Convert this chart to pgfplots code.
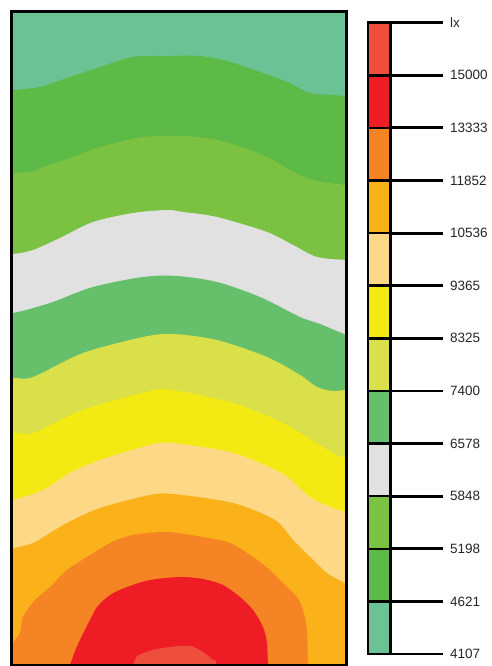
\documentclass[border=0pt]{standalone}
\usepackage{pgfplots}
\pgfplotsset{compat=1.18}
\usepgfplotslibrary{fillbetween}
\usepackage{fontspec}
\setmainfont{Liberation Sans}
\definecolor{c0}{HTML}{6AC295}
\definecolor{c1}{HTML}{5EBA46}
\definecolor{c2}{HTML}{7BC142}
\definecolor{c3}{HTML}{E1E1E1}
\definecolor{c4}{HTML}{65BF6B}
\definecolor{c5}{HTML}{DAE04A}
\definecolor{c6}{HTML}{F2EA12}
\definecolor{c7}{HTML}{FDD987}
\definecolor{c8}{HTML}{FBB11A}
\definecolor{c9}{HTML}{F58524}
\definecolor{c10}{HTML}{EE1D25}
\definecolor{c11}{HTML}{EE4E3C}
\begin{document}
\begin{tikzpicture}
% ---------- illuminance map (contour boundaries in px, y downward) ----------
\begin{axis}[
  at={(11.3pt,1pt)}, anchor=south west, scale only axis,
  width=335.4pt, height=653.7pt,
  xmin=11.3, xmax=346.7, ymin=11.3, ymax=665, y dir=reverse,
  xtick=\empty, ytick=\empty,
  axis line style={line width=2.5pt, black},
  axis on top,
]
\addplot[name path=b0, draw=none] coordinates {(-20,0) (380,0)};
% 4621 lx
\addplot[name path=b1, draw=none, smooth] coordinates {(-20,92) (13,90) (40,87) (67,78) (100,67) (133,57) (167,56) (200,56) (227,61) (260,72) (287,82) (310,93) (333,95) (347,96) (380,97)};
% 5198 lx
\addplot[name path=b2, draw=none, smooth] coordinates {(-20,174) (13,173) (33,171) (43,167) (70,158) (100,147) (143,137) (183,136) (217,140) (250,150) (273,160) (290,170) (313,180) (347,185) (380,186)};
% 5848 lx
\addplot[name path=b3, draw=none, smooth] coordinates {(-20,255) (13,254) (33,250) (60,238) (93,222) (133,213) (167,210) (183,212) (217,217) (267,232) (293,245) (317,257) (347,260) (380,261)};
% 6578 lx
\addplot[name path=b4, draw=none, smooth] coordinates {(-20,316) (13,313) (50,303) (93,287) (143,277) (177,276) (217,282) (260,297) (300,317) (320,324) (347,335) (380,345)};
% 7400 lx
\addplot[name path=b5, draw=none, smooth] coordinates {(-20,380) (13,378) (33,377) (83,353) (143,337) (173,334) (217,340) (267,357) (300,375) (317,387) (333,391) (347,390) (380,390)};
% 8325 lx
\addplot[name path=b6, draw=none, smooth] coordinates {(-20,431) (13,432) (33,433) (83,410) (150,391) (173,390) (233,403) (283,423) (333,453) (347,458) (380,466)};
% 9365 lx
\addplot[name path=b7, draw=none, smooth] coordinates {(-20,505) (13,500) (43,490) (70,473) (100,460) (150,445) (173,443) (233,453) (283,474) (310,497) (333,508) (347,512) (380,518)};
% 10536 lx
\addplot[name path=b8, draw=none, smooth] coordinates {(-20,550) (13,548) (33,543) (50,533) (67,523) (100,508) (150,495) (173,494) (233,503) (275,520) (293,540) (310,557) (327,573) (343,582) (347,583) (380,585)};
% 11852 lx
\addplot[name path=b9, draw=none, smooth] coordinates {(-20,700) (13,643) (20,633) (22,620) (27,610) (37,598) (50,587) (67,570) (87,557) (110,543) (133,535) (167,532) (203,537) (230,543) (253,557) (270,570) (283,583) (297,597) (303,610) (307,630) (308,665) (311,700) (330,760) (380,790)};
% 13333 lx
\addplot[name path=b10, draw=none, smooth] coordinates {(-20,900) (40,760) (70,665) (80,640) (90,620) (97,607) (110,595) (127,587) (150,580) (180,577) (203,579) (223,585) (240,597) (253,610) (263,627) (267,643) (268,665) (272,720) (300,800) (380,850)};
% 15000 lx
\addplot[name path=b11, draw=none, smooth] coordinates {(-20,950) (100,760) (133,665) (140,655) (153,650) (170,647) (190,646) (203,652) (213,660) (217,665) (230,720) (380,900)};
\addplot[name path=b12, draw=none] coordinates {(-20,1000) (380,1000)};
\addplot[fill=c0, draw=none] fill between[of=b0 and b12];
\addplot[fill=c1, draw=none] fill between[of=b1 and b12];
\addplot[fill=c2, draw=none] fill between[of=b2 and b12];
\addplot[fill=c3, draw=none] fill between[of=b3 and b12];
\addplot[fill=c4, draw=none] fill between[of=b4 and b12];
\addplot[fill=c5, draw=none] fill between[of=b5 and b12];
\addplot[fill=c6, draw=none] fill between[of=b6 and b12];
\addplot[fill=c7, draw=none] fill between[of=b7 and b12];
\addplot[fill=c8, draw=none] fill between[of=b8 and b12];
\addplot[fill=c9, draw=none] fill between[of=b9 and b12];
\addplot[fill=c10, draw=none] fill between[of=b10 and b12];
\addplot[fill=c11, draw=none] fill between[of=b11 and b12];
\end{axis}
% ---------- colour scale ----------
\begin{axis}[
  at={(368pt,12pt)}, anchor=south west, scale only axis,
  width=22.5pt, height=631.3pt,
  xmin=0, xmax=1, ymin=0, ymax=12,
  xtick=\empty,
  ytick={0,1,2,3,4,5,6,7,8,9,10,11,12},
  yticklabels={4107,4621,5198,5848,6578,7400,8325,9365,10536,11852,13333,15000,lx},
  ytick pos=right, yticklabel pos=right, tick align=outside,
  major tick length=52pt,
  tick style={line width=2.9pt, black},
  yticklabel style={font=\fontsize{13.5}{16}\selectfont, text=black!85, anchor=west, xshift=4pt},
  axis line style={line width=2.5pt, black},
  axis on top, clip=false,
]
\addplot[fill=c0, draw=black, line width=2.5pt] coordinates {(0,0) (1,0) (1,1) (0,1) (0,0)};
\addplot[fill=c1, draw=black, line width=2.5pt] coordinates {(0,1) (1,1) (1,2) (0,2) (0,1)};
\addplot[fill=c2, draw=black, line width=2.5pt] coordinates {(0,2) (1,2) (1,3) (0,3) (0,2)};
\addplot[fill=c3, draw=black, line width=2.5pt] coordinates {(0,3) (1,3) (1,4) (0,4) (0,3)};
\addplot[fill=c4, draw=black, line width=2.5pt] coordinates {(0,4) (1,4) (1,5) (0,5) (0,4)};
\addplot[fill=c5, draw=black, line width=2.5pt] coordinates {(0,5) (1,5) (1,6) (0,6) (0,5)};
\addplot[fill=c6, draw=black, line width=2.5pt] coordinates {(0,6) (1,6) (1,7) (0,7) (0,6)};
\addplot[fill=c7, draw=black, line width=2.5pt] coordinates {(0,7) (1,7) (1,8) (0,8) (0,7)};
\addplot[fill=c8, draw=black, line width=2.5pt] coordinates {(0,8) (1,8) (1,9) (0,9) (0,8)};
\addplot[fill=c9, draw=black, line width=2.5pt] coordinates {(0,9) (1,9) (1,10) (0,10) (0,9)};
\addplot[fill=c10, draw=black, line width=2.5pt] coordinates {(0,10) (1,10) (1,11) (0,11) (0,10)};
\addplot[fill=c11, draw=black, line width=2.5pt] coordinates {(0,11) (1,11) (1,12) (0,12) (0,11)};
\end{axis}
\pgfresetboundingbox
\useasboundingbox (0,0) rectangle (492pt,666pt);
\end{tikzpicture}
\end{document}
